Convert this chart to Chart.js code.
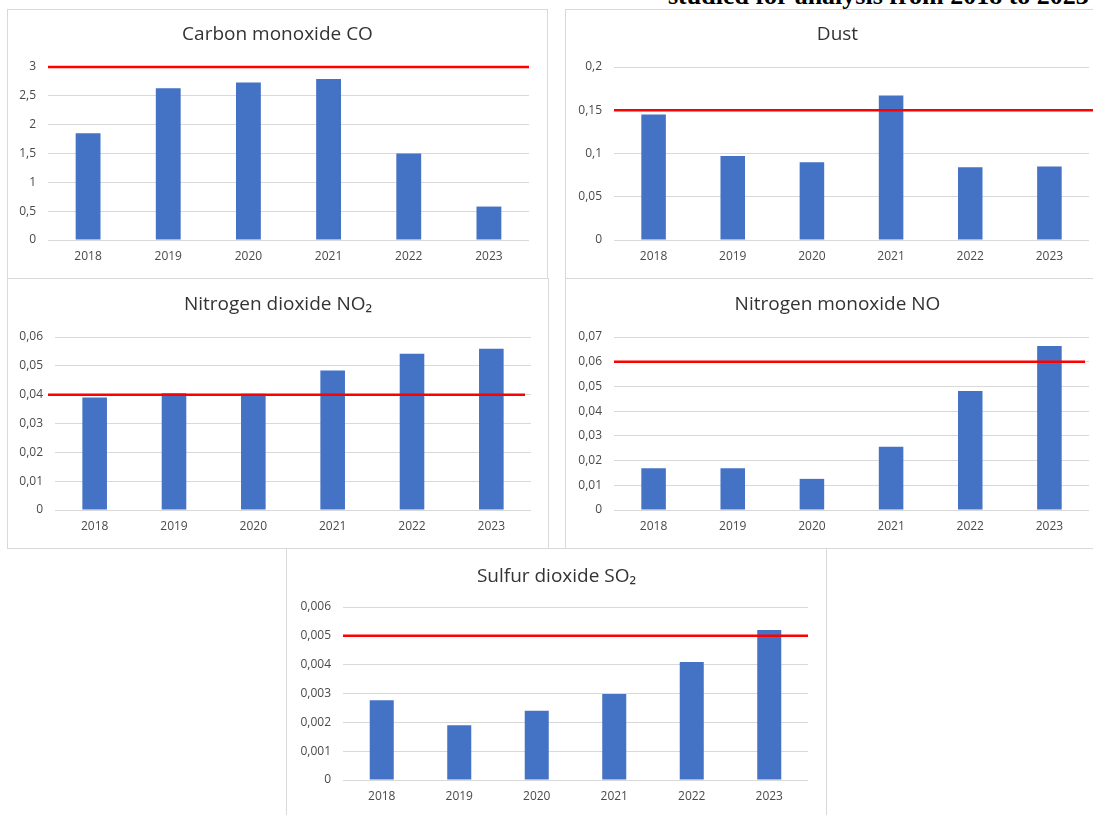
<!DOCTYPE html>
<html>
<head>
<meta charset="utf-8">
<script src="https://cdn.jsdelivr.net/npm/chart.js@4.4.1/dist/chart.umd.min.js"></script>
<style>
  html, body { margin: 0; padding: 0; background: #fff; }
  #page { position: relative; width: 1093px; height: 815px; overflow: hidden; background: #fff; }
  .panel { position: absolute; border: 1px solid #d9d9d9; background: #fff; box-sizing: border-box; }
  .panel canvas { display: block; }
  #heading { position: absolute; left: 668px; top: -17px; font: bold 26px 'Liberation Serif', 'Times New Roman', serif;
             line-height: 26px; white-space: nowrap; color: #000; }
</style>
</head>
<body>
<div id="page"></div>
<script>
// Years on the category axis
const years = ['2018', '2019', '2020', '2021', '2022', '2023'];

// Mean concentrations per year
const coValues   = [1.85, 2.63, 2.73, 2.79, 1.50, 0.58];
const dustValues = [0.145, 0.097, 0.090, 0.167, 0.084, 0.085];
const no2Values  = [0.039, 0.0405, 0.0403, 0.0484, 0.0542, 0.0559];
const noValues   = [0.0169, 0.0169, 0.0126, 0.0256, 0.0481, 0.0664];
const so2Values  = [0.00277, 0.0019, 0.0024, 0.00298, 0.00409, 0.0052];

// Permissible limits (red reference lines)
const coLimit = 3;
const dustLimit = 0.15;
const no2Limit = 0.04;
const noLimit = 0.06;
const so2Limit = 0.005;

// Value-axis ticks and their labels
const coTicks   = [0, 0.5, 1, 1.5, 2, 2.5, 3];
const coLabels  = ['0', '0,5', '1', '1,5', '2', '2,5', '3'];
const dustTicks  = [0, 0.05, 0.1, 0.15, 0.2];
const dustLabels = ['0', '0,05', '0,1', '0,15', '0,2'];
const no2Ticks  = [0, 0.01, 0.02, 0.03, 0.04, 0.05, 0.06];
const no2Labels = ['0', '0,01', '0,02', '0,03', '0,04', '0,05', '0,06'];
const noTicks   = [0, 0.01, 0.02, 0.03, 0.04, 0.05, 0.06, 0.07];
const noLabels  = ['0', '0,01', '0,02', '0,03', '0,04', '0,05', '0,06', '0,07'];
const so2Ticks  = [0, 0.001, 0.002, 0.003, 0.004, 0.005, 0.006];
const so2Labels = ['0', '0,001', '0,002', '0,003', '0,004', '0,005', '0,006'];

const FONT = "'Open Sans', 'Noto Sans', 'DejaVu Sans', sans-serif";
const BAR_COLOR = '#4472C4';
const LIMIT_COLOR = '#FF0000';

// Panel frames (page px) and plot areas [left, top, right, bottom]
const panels = [
  { title: 'Carbon monoxide CO', values: coValues, limit: coLimit, ticks: coTicks, labels: coLabels,
    box: [7, 9, 541, 271], area: [48, 67, 529, 240], titleY: 35, ext: [0, 0] },
  { title: 'Dust', values: dustValues, limit: dustLimit, ticks: dustTicks, labels: dustLabels,
    box: [565, 9, 545, 271], area: [614, 67, 1089, 240], titleY: 35, ext: [0, 20] },
  { title: 'Nitrogen dioxide NO\u2082', values: no2Values, limit: no2Limit, ticks: no2Ticks, labels: no2Labels,
    box: [7, 278, 542, 271], area: [55, 337, 531, 510], titleY: 305, ext: [-7, -6] },
  { title: 'Nitrogen monoxide NO', values: noValues, limit: noLimit, ticks: noTicks, labels: noLabels,
    box: [565, 278, 545, 271], area: [614, 337, 1089, 510], titleY: 305, ext: [0, -4] },
  { title: 'Sulfur dioxide SO\u2082', values: so2Values, limit: so2Limit, ticks: so2Ticks, labels: so2Labels,
    box: [286, 548, 541, 271], area: [343, 607, 808, 780], titleY: 577, ext: [0, 0] }
];

// Draws the horizontal limit line over the bars
const limitLine = {
  id: 'limitLine',
  afterDatasetsDraw(chart, args, opts) {
    const { ctx, chartArea, scales } = chart;
    const y = scales.y.getPixelForValue(opts.value);
    ctx.save();
    ctx.strokeStyle = opts.color;
    ctx.lineWidth = opts.width;
    ctx.beginPath();
    ctx.moveTo(chartArea.left + opts.from, y);
    ctx.lineTo(chartArea.right + opts.to, y);
    ctx.stroke();
    ctx.restore();
  }
};

const page = document.getElementById('page');

panels.forEach(p => {
  const [bx, by, bw, bh] = p.box;
  const div = document.createElement('div');
  div.className = 'panel';
  Object.assign(div.style, { left: bx + 'px', top: by + 'px', width: bw + 'px', height: bh + 'px' });
  const cw = bw - 2, ch = bh - 2;
  const canvas = document.createElement('canvas');
  canvas.width = cw; canvas.height = ch;
  canvas.style.width = cw + 'px'; canvas.style.height = ch + 'px';
  div.appendChild(canvas);
  page.appendChild(div);

  const ox = bx + 1, oy = by + 1;
  const [L, T, R, B] = p.area;
  const titleSize = 19, titleLine = titleSize * 1.2;
  const titleTop = (p.titleY - oy) - titleLine / 2;
  const titleBottom = (T - oy) - titleTop - titleLine;
  const rightGap = cw - (R - ox);

  new Chart(canvas, {
    type: 'bar',
    data: {
      labels: years,
      datasets: [{
        data: p.values,
        backgroundColor: BAR_COLOR,
        borderWidth: 0,
        barPercentage: 0.31,
        categoryPercentage: 1
      }]
    },
    plugins: [limitLine],
    options: {
      responsive: false,
      animation: false,
      events: [],
      layout: { padding: 0 },
      plugins: {
        legend: { display: false },
        tooltip: { enabled: false },
        title: {
          display: true,
          text: p.title,
          color: '#333333',
          font: { family: FONT, size: titleSize, weight: 'normal', lineHeight: 1.2 },
          padding: { top: titleTop, bottom: titleBottom }
        },
        limitLine: { value: p.limit, color: LIMIT_COLOR, width: 2.5, from: p.ext[0], to: p.ext[1] }
      },
      scales: {
        x: {
          grid: { display: false, drawTicks: false },
          border: { display: false },
          ticks: { color: '#4a4a4a', font: { family: FONT, size: 12 }, padding: 9, maxRotation: 0 },
          afterFit(scale) { scale.height = ch - (B - oy); }
        },
        y: {
          min: p.ticks[0],
          max: p.ticks[p.ticks.length - 1],
          grid: { color: '#d9d9d9', lineWidth: 1, drawTicks: false },
          border: { display: false },
          ticks: {
            color: '#4a4a4a',
            font: { family: FONT, size: 12 },
            padding: 12,
            callback: (v, i) => p.labels[i]
          },
          afterBuildTicks(scale) { scale.ticks = p.ticks.map(v => ({ value: v })); },
          afterFit(scale) { scale.width = L - ox; }
        },
        // empty margin on the right so the title stays centred on the whole panel
        margin: {
          type: 'linear',
          position: 'right',
          grid: { display: false, drawTicks: false },
          border: { display: false },
          ticks: { display: false },
          afterFit(scale) { scale.width = rightGap; }
        }
      }
    }
  });
});

const heading = document.createElement('div');
heading.id = 'heading';
heading.textContent = 'studied for analysis from 2018 to 2023';
page.appendChild(heading);
</script>
</body>
</html>
